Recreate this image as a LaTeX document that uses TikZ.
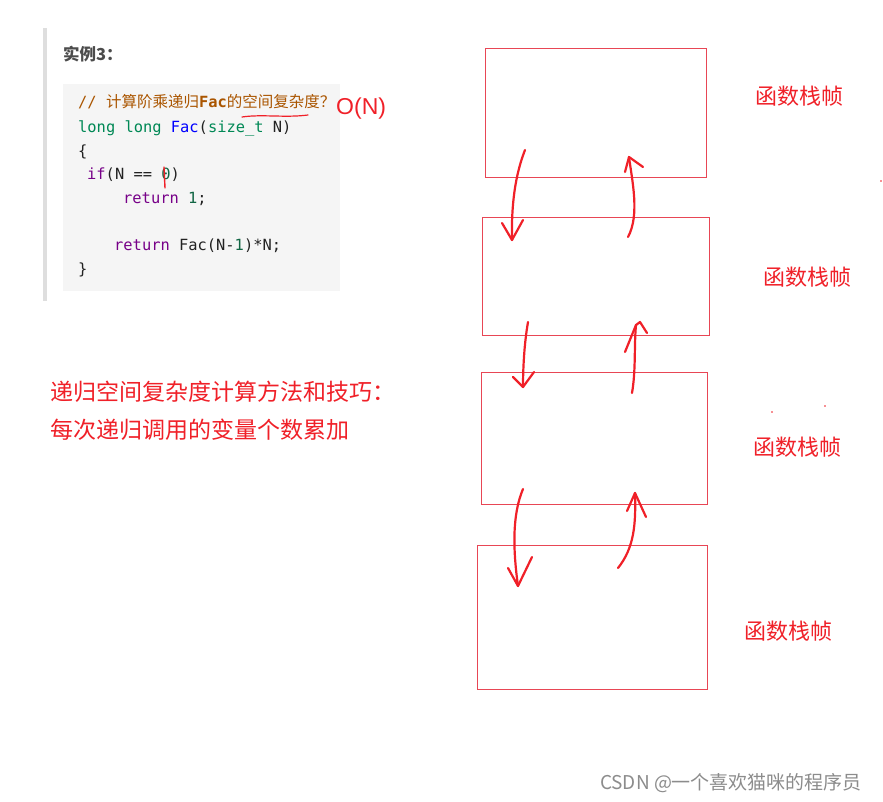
\documentclass[tikz,border=0pt]{standalone}
\usepackage{fontspec}
\setmainfont{Liberation Sans}
\setmonofont{DejaVu Sans Mono}
\newfontfamily\cjk{Noto Sans CJK SC}
\usetikzlibrary{calc}

\definecolor{hongse}{RGB}{240,32,40}
\definecolor{kuangse}{RGB}{232,70,85}
\definecolor{cm}{HTML}{AA5500}
\definecolor{ty}{HTML}{008855}
\definecolor{df}{HTML}{0000FF}
\definecolor{kw}{HTML}{770088}
\definecolor{nb}{HTML}{116644}
\definecolor{pl}{HTML}{222222}

\tikzset{
  codeline/.style={anchor=base west, inner sep=0pt, font=\fontsize{15.4}{17}\selectfont\ttfamily, text=pl},
  zhen/.style={draw=kuangse, line width=0.8pt, inner sep=0pt, outer sep=0pt},
  zhenlabel/.style={text=hongse, font=\cjk\fontsize{22}{26}\selectfont},
  shou/.style={draw=hongse, line width=2.2pt, line cap=round, line join=round},
}

\begin{document}
\begin{tikzpicture}[x=1pt, y=-1pt]
  \useasboundingbox[fill=white] (0,0) rectangle (883,802);

  % 左边的代码块
  \fill[black!13] (43,28) rectangle (47,301);
  \node[anchor=base west, inner sep=0pt, text=black!70, font=\cjk\bfseries\fontsize{16.5}{19}\selectfont] (title) at (63,61) {实例3：};
  \fill[black!4] (63,84) rectangle (340,291);

  \node[codeline] (c1) at (78,108) {\textcolor{cm}{// {\cjk\fontsize{15.5}{17}\selectfont 计算阶乘递归}\textbf{Fac}{\cjk\fontsize{15.5}{17}\selectfont 的空间复杂度？}}};
  \node[codeline] (c2) at (78,133) {\textcolor{ty}{long long} \textcolor{df}{Fac}(\textcolor{ty}{size\_t} N)};
  \node[codeline] (c3) at (78,157) {\{};
  \node[codeline] (c4) at (87,180) {\textcolor{kw}{if}(N == \textcolor{nb}{0})};
  \node[codeline] (c5) at (123,204) {\textcolor{kw}{return} \textcolor{nb}{1};};
  \node[codeline] (c6) at (114,251) {\textcolor{kw}{return} Fac(N-\textcolor{nb}{1})*N;};
  \node[codeline] (c7) at (78,275) {\}};

  % 手写的标注
  \draw[hongse, line width=1.2pt, line cap=round] (242,117) .. controls (262,114) and (285,118) .. (308,115);
  \draw[hongse, line width=1.4pt, line cap=round] (164,167) -- (165,188);
  \node[anchor=base west, inner sep=0pt, text=hongse, font=\fontsize{23}{26}\selectfont] (on) at (336,115) {O(N)};

  \node[anchor=base west, inner sep=0pt, text=hongse, font=\cjk\fontsize{23}{27}\selectfont] (tip1) at (50,400) {递归空间复杂度计算方法和技巧：};
  \node[anchor=base west, inner sep=0pt, text=hongse, font=\cjk\fontsize{23}{27}\selectfont] (tip2) at (50,438) {每次递归调用的变量个数累加};

  % 函数栈帧
  \node[zhen, minimum width=221pt, minimum height=129pt] (f1) at (595.5,112.5) {};
  \node[zhen, minimum width=227pt, minimum height=118pt] (f2) at (595.5,276) {};
  \node[zhen, minimum width=226pt, minimum height=132pt] (f3) at (594,438) {};
  \node[zhen, minimum width=230pt, minimum height=144pt] (f4) at (592,617) {};

  \node[zhenlabel] (l1) at (799,96) {函数栈帧};
  \node[zhenlabel] (l2) at (807,277) {函数栈帧};
  \node[zhenlabel] (l3) at (797,447) {函数栈帧};
  \node[zhenlabel] (l4) at (788,631) {函数栈帧};

  % 递归调用与返回
  \coordinate (d1s) at (525,150); \coordinate (d1e) at (512,240);
  \coordinate (u1s) at (628,237); \coordinate (u1e) at (629,157);
  \coordinate (d2s) at (528,322); \coordinate (d2e) at (523,387);
  \coordinate (u2s) at (632,393); \coordinate (u2e) at (636,325);
  \coordinate (d3s) at (523,489); \coordinate (d3e) at (518,586);
  \coordinate (u3s) at (618,568); \coordinate (u3e) at (635,493);

  \draw[shou] (d1s) .. controls (518,168) and (511,195) .. (d1e);
  \draw[shou] (d1e) ++(-10,-17) -- (d1e) -- ++(11,-20);
  \draw[shou] (u1s) .. controls (640,215) and (632,180) .. (u1e);
  \draw[shou] (u1e) ++(-4,15) -- (u1e) -- ++(14,10);

  \draw[shou] (d2s) .. controls (524,345) and (523,370) .. (d2e);
  \draw[shou] (d2e) ++(-10,-10) -- (d2e) -- ++(11,-15);
  \draw[shou] (u2s) .. controls (636,370) and (634,345) .. (u2e);
  \draw[shou] (u2e) ++(-11,27) -- (u2e) -- ++(4,-3) -- ++(7,11);

  \draw[shou] (d3s) .. controls (512,515) and (513,550) .. (d3e);
  \draw[shou] (d3e) ++(-10,-18) -- (d3e) -- ++(14,-29);
  \draw[shou] (u3s) .. controls (634,548) and (636,525) .. (u3e);
  \draw[shou] (u3e) ++(-8,18) -- (u3e) -- ++(11,24);

  % 小红点
  \fill[hongse] (881,181) circle (0.8pt);
  \fill[hongse] (772,412) circle (0.8pt);
  \fill[hongse] (825,406) circle (0.8pt);

  \node[text=black!45, font=\cjk\fontsize{19}{22}\selectfont] (wm) at (731,783) {CSDN @一个喜欢猫咪的程序员};
\end{tikzpicture}
\end{document}
